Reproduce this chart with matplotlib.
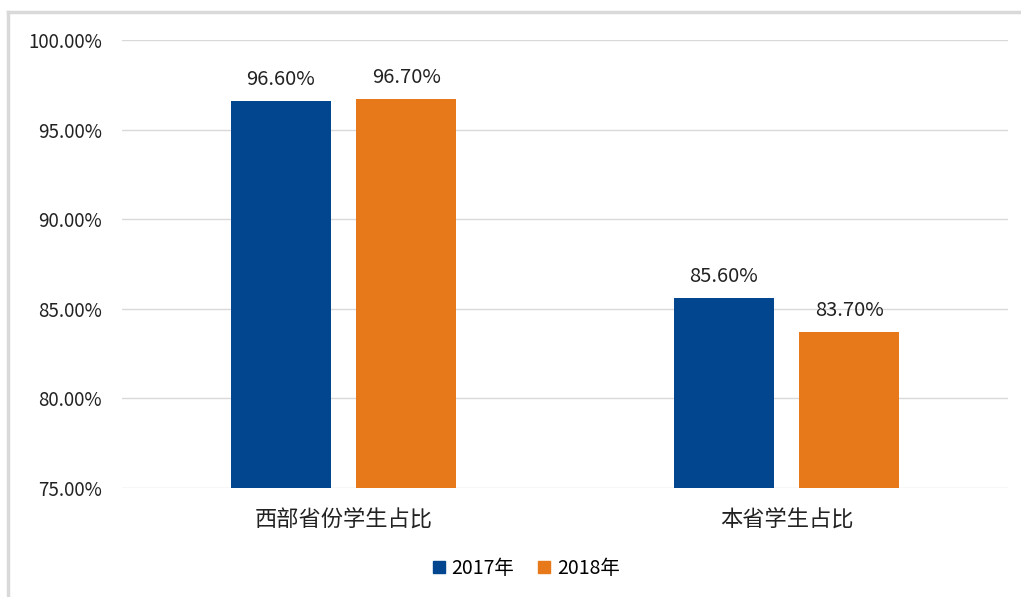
import matplotlib
matplotlib.use("Agg")
import matplotlib.pyplot as plt
import numpy as np
from matplotlib.lines import Line2D

plt.rcParams['font.family'] = ['Noto Sans CJK SC', 'DejaVu Sans']

categories = ["西部省份学生占比", "本省学生占比"]
series_names = ["2017年", "2018年"]
values_2017 = [96.6, 85.6]
values_2018 = [96.7, 83.7]
colors = ["#02468f", "#e8791b"]
yticks = [75, 80, 85, 90, 95, 100]

fig = plt.figure(figsize=(10.21, 5.97), dpi=100)
ax = fig.add_axes([122/1021, 1-488/597, 886/1021, 448/597])

x = np.arange(len(categories))
w = 0.226
off = 0.142
for vals, c, name, sgn in [(values_2017, colors[0], series_names[0], -1),
                           (values_2018, colors[1], series_names[1], 1)]:
    bars = ax.bar(x + sgn*off, vals, width=w, color=c, label=name, zorder=3)
    for b, v in zip(bars, vals):
        ax.annotate(f"{v:.2f}%", (b.get_x()+b.get_width()/2, v), xytext=(0, 8),
                    textcoords="offset points", ha="center", va="bottom",
                    fontsize=14.5, color="#222222")

ax.set_xlim(-0.5, 1.5)
ax.set_ylim(75, 100)
ax.set_yticks(yticks)
ax.set_yticklabels([f"{t:.2f}%" for t in yticks], fontsize=13.5, color="#222222")
ax.set_xticks(x)
ax.set_xticklabels(categories, fontsize=16, color="#222222")
ax.tick_params(axis='y', length=0, pad=14.5)
ax.tick_params(axis='x', length=0, pad=15)
ax.grid(axis='y', color="#d9d9d9", linewidth=1, zorder=0)
for s in ax.spines.values():
    s.set_visible(False)

handles = [Line2D([], [], marker='s', linestyle='', markersize=9, color=c) for c in colors]
fig.legend(handles, series_names, loc='center', bbox_to_anchor=(526/1021, 1-568/597),
           ncol=2, frameon=False, fontsize=14, handlelength=0.7, handletextpad=0.3,
           columnspacing=1.2)

# chart frame lines (left and top)
fig.add_artist(Line2D([8/1021, 8/1021], [0, 1-12/597], transform=fig.transFigure,
                      color="#d9d9d9", linewidth=2.5))
fig.add_artist(Line2D([8/1021, 1], [1-12/597, 1-12/597], transform=fig.transFigure,
                      color="#d9d9d9", linewidth=2.5))

fig.savefig("out.png", dpi=100, facecolor="white")
